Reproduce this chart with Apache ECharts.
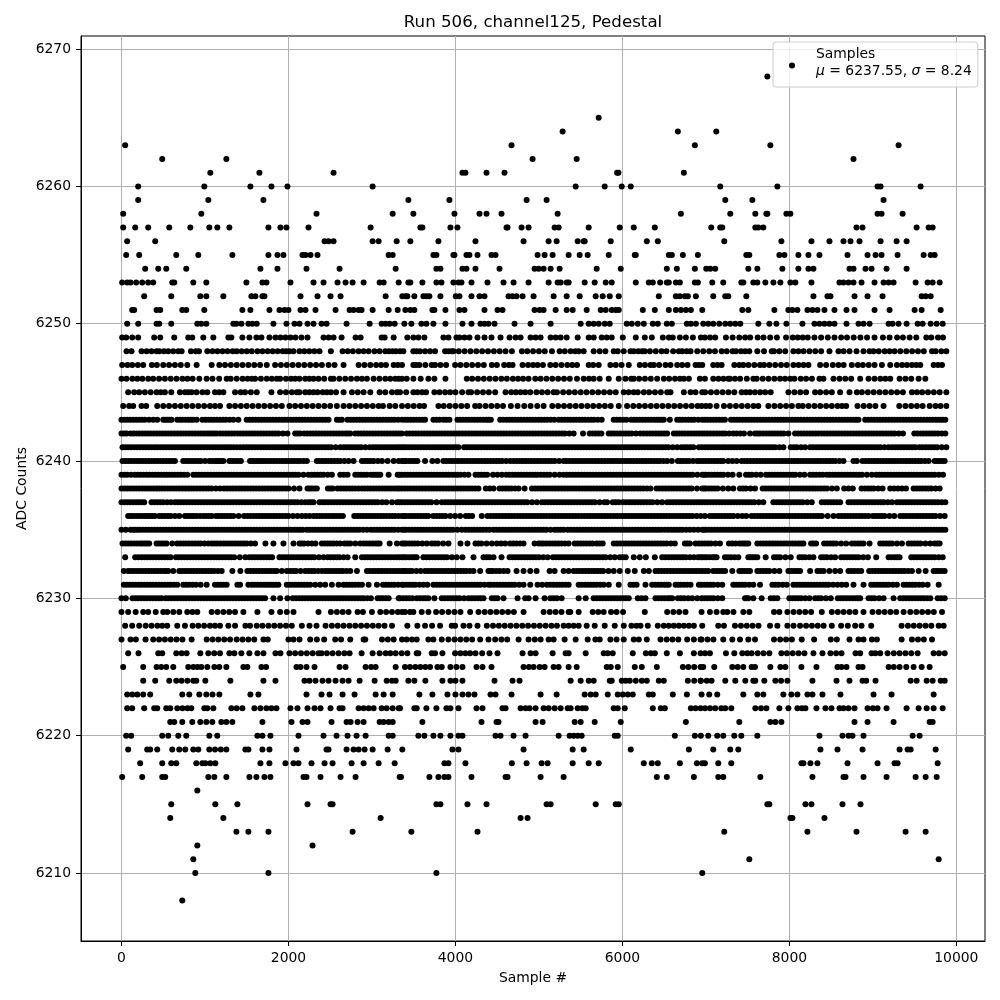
<!DOCTYPE html>
<html>
<head>
<meta charset="utf-8">
<title>Run 506, channel125, Pedestal</title>
<script src="https://cdn.jsdelivr.net/npm/echarts@6/dist/echarts.min.js"></script>
<style>
  html, body { margin: 0; padding: 0; background: #fff; }
  #main { width: 1000px; height: 1000px; }
</style>
</head>
<body>
<div id="main"></div>
<script>
// tick labels
const xTicks = [0, 2000, 4000, 6000, 8000, 10000]
const yTicks = [6210, 6220, 6230, 6240, 6250, 6260, 6270]

// sample numbers, one list per ADC count
const adc6268 = [7736]
const adc6265 = [5716]
const adc6264 = [5284, 6664, 7124]
const adc6263 = [44, 4672, 6868, 7772, 9308]
const adc6262 = [488, 1256, 4924, 5452, 8768]
const adc6261 = [1064, 1652, 2540, 4084, 4120, 4372, 4588, 5936, 5952, 6736]
const adc6260 = [200, 992, 1544, 1796, 1988, 3008, 5440, 5788, 5992, 6100, 7172, 7856, 9056, 9092, 9572]
const adc6259 = [200, 1040, 1700, 3436, 3928, 4852, 5092, 7232, 7556, 9128]
const adc6258 = [20, 956, 2336, 3248, 3496, 3988, 4288, 4372, 4552, 5224, 6700, 7292, 7592, 7724, 7736, 7964, 8012, 9056, 9104, 9356]
const adc6257 = [20, 164, 320, 572, 824, 1052, 1148, 1292, 1760, 1904, 1976, 2240, 2984, 3580, 3604, 3940, 4024, 4612, 4624, 4792, 4876, 5188, 5236, 5596, 5968, 6136, 6388, 7064, 7172, 7196, 7592, 7628, 7688, 8804, 8876, 9524, 9668, 9716]
const adc6256 = [68, 404, 2432, 2480, 2540, 3008, 3080, 3296, 3460, 3796, 4240, 4816, 5116, 5212, 5464, 5536, 5548, 5860, 6292, 6424, 7220, 7904, 8264, 8480, 8648, 8732, 8840, 9092, 9284, 9404]
const adc6255 = [56, 212, 656, 920, 1328, 1760, 1868, 1940, 2168, 2204, 2264, 2348, 3200, 3248, 3736, 3772, 3976, 3988, 4132, 4168, 4264, 4432, 4480, 4984, 5068, 5164, 5356, 5488, 5584, 5836, 6148, 6160, 6556, 6592, 6724, 6904, 7484, 7520, 7880, 7940, 8108, 8228, 8360, 8696, 8936, 9032, 9104, 9296, 9608, 9692, 9740]
const adc6254 = [284, 440, 536, 776, 1664, 1868, 2216, 2612, 3284, 3772, 3820, 4084, 4132, 4240, 4528, 4948, 4996, 5056, 5140, 5248, 5692, 5980, 6532, 6652, 6868, 7004, 7052, 7112, 7508, 7616, 7916, 8108, 8228, 8288, 8720, 8768, 8912, 8984, 9164, 9404]
const adc6253 = [8, 68, 108, 176, 248, 320, 380, 608, 632, 860, 1016, 1496, 1688, 1736, 2024, 2300, 2420, 2588, 2684, 2768, 2900, 3092, 3140, 3320, 3436, 3460, 3604, 3772, 3832, 3976, 4036, 4072, 4192, 4384, 4576, 4696, 4876, 5116, 5224, 5260, 5332, 5356, 5548, 5668, 5800, 5872, 6160, 6316, 6364, 6452, 6532, 6556, 6640, 6688, 6868, 6904, 7076, 7208, 7424, 7448, 7568, 7616, 7712, 7808, 7892, 8012, 8072, 8264, 8600, 8648, 8708, 8768, 8864, 9020, 9128, 9188, 9248, 9512, 9656, 9716, 9800]
const adc6252 = [272, 596, 944, 1016, 1220, 1556, 1604, 1688, 1712, 2144, 2348, 2504, 2624, 3164, 3364, 3400, 3424, 3508, 3616, 3652, 3688, 3820, 4004, 4048, 4192, 4288, 4348, 4636, 4684, 4732, 4804, 4936, 5176, 5332, 5488, 5680, 5764, 5848, 5956, 6436, 6640, 6688, 6748, 6784, 6880, 7088, 7232, 7268, 7484, 8288, 8456, 8492, 8780, 8936, 9116, 9584, 9632, 9692]
const adc6251 = [128, 152, 420, 464, 728, 776, 992, 1448, 1544, 1772, 1892, 1952, 2000, 2144, 2204, 2324, 2564, 2732, 2780, 2840, 2876, 3008, 3200, 3308, 3400, 3460, 3508, 3724, 3748, 3880, 4048, 4108, 4348, 4504, 4564, 4948, 5008, 5056, 5200, 5332, 5404, 5572, 5740, 5800, 5872, 5920, 5956, 6244, 6388, 6556, 6640, 6700, 6760, 6820, 6956, 7436, 7508, 7820, 7988, 8036, 8096, 8216, 8276, 8336, 8420, 8540, 8684, 8780, 9020, 9200, 9500, 9584, 9812]
const adc6250 = [68, 200, 420, 452, 596, 908, 956, 1016, 1340, 1376, 1436, 1520, 1568, 1620, 1820, 1976, 2072, 2132, 2228, 2300, 2396, 2456, 2696, 2972, 3116, 3164, 3212, 3272, 3388, 3472, 3592, 3652, 3736, 3880, 4084, 4192, 4300, 4348, 4396, 4468, 4708, 4900, 5140, 5500, 5596, 5656, 5716, 5788, 5848, 6052, 6112, 6184, 6256, 6364, 6424, 6532, 6592, 6772, 6820, 6880, 6968, 7028, 7088, 7160, 7232, 7292, 7352, 7412, 7628, 7760, 7844, 7964, 8156, 8300, 8360, 8420, 8480, 8540, 8684, 8828, 8888, 8960, 9188, 9236, 9308, 9404, 9536, 9596, 9692, 9764, 9836]
const adc6249 = [8, 56, 128, 200, 392, 464, 632, 800, 848, 980, 1100, 1280, 1316, 1448, 1532, 1616, 1676, 1772, 1844, 1904, 1964, 2024, 2084, 2156, 2228, 2420, 2480, 2540, 2636, 2804, 2864, 3116, 3152, 3260, 3424, 3496, 3556, 3628, 3856, 3916, 4012, 4048, 4108, 4168, 4264, 4348, 4432, 4540, 4648, 4720, 4780, 4900, 4960, 5020, 5140, 5200, 5260, 5332, 5464, 5596, 5656, 5752, 5812, 5872, 6004, 6160, 6268, 6352, 6484, 6556, 6604, 6688, 6760, 6844, 6940, 6988, 7050, 7112, 7240, 7320, 7400, 7470, 7530, 7620, 7690, 7770, 7850, 7960, 8040, 8100, 8160, 8220, 8300, 8380, 8460, 8540, 8620, 8690, 8770, 8850, 8930, 9020, 9120, 9200, 9290, 9360, 9440, 9520, 9640, 9700, 9780, 9840]
const adc6248 = [60, 120, 240, 300, 360, 420, 452, 508, 560, 620, 680, 720, 832, 890, 928, 1028, 1090, 1150, 1210, 1270, 1332, 1380, 1440, 1500, 1560, 1628, 1688, 1750, 1810, 1870, 1930, 1972, 2012, 2060, 2132, 2190, 2250, 2310, 2372, 2508, 2648, 2710, 2772, 2840, 2900, 2960, 3030, 3092, 3160, 3205, 3248, 3288, 3336, 3376, 3496, 3536, 3576, 3636, 3696, 3756, 3876, 3916, 3956, 3976, 4040, 4110, 4180, 4250, 4320, 4390, 4460, 4530, 4600, 4676, 4796, 4860, 4930, 5000, 5070, 5156, 5248, 5310, 5380, 5436, 5476, 5536, 5656, 5728, 5796, 5896, 5944, 6016, 6096, 6136, 6190, 6236, 6268, 6330, 6400, 6470, 6528, 6608, 6676, 6716, 6770, 6816, 6896, 6968, 7040, 7108, 7188, 7250, 7320, 7360, 7420, 7470, 7520, 7616, 7696, 7788, 7816, 7880, 7950, 8048, 8108, 8170, 8240, 8310, 8380, 8480, 8588, 8650, 8720, 8804, 8888, 8960, 9008, 9070, 9140, 9200, 9260, 9328, 9400, 9470, 9540, 9610, 9708, 9752, 9820, 9880]
const adc6247 = [8, 72, 128, 196, 260, 364, 424, 500, 570, 640, 710, 788, 900, 1080, 1172, 1240, 1310, 1380, 1450, 1520, 1590, 1660, 1740, 1840, 1910, 1980, 2050, 2120, 2190, 2260, 2330, 2400, 2480, 2552, 2660, 2840, 2910, 2980, 3050, 3110, 3168, 3260, 3310, 3360, 3496, 3528, 3568, 3640, 3716, 3756, 3820, 3888, 3996, 4060, 4130, 4200, 4270, 4340, 4436, 4496, 4584, 4640, 4684, 4804, 4870, 4930, 4984, 5048, 5136, 5200, 5270, 5340, 5400, 5456, 5596, 5650, 5716, 5856, 5920, 5990, 6076, 6208, 6270, 6336, 6376, 6440, 6516, 6576, 6656, 6716, 6780, 6876, 6916, 6956, 7088, 7140, 7188, 7340, 7400, 7448, 7510, 7580, 7648, 7696, 7760, 7830, 7900, 7968, 8048, 8110, 8170, 8228, 8368, 8440, 8520, 8588, 8650, 8748, 8820, 8880, 8950, 9020, 9108, 9208, 9288, 9350, 9408, 9468, 9520, 9568, 9728, 9780, 9828]
const adc6246 = [0, 60, 130, 190, 250, 320, 380, 450, 520, 590, 660, 730, 790, 852, 932, 1020, 1090, 1170, 1260, 1308, 1380, 1450, 1510, 1560, 1600, 1670, 1740, 1800, 1860, 1900, 1970, 2030, 2080, 2132, 2200, 2250, 2300, 2360, 2428, 2508, 2540, 2610, 2680, 2750, 2820, 2880, 2940, 3020, 3090, 3160, 3220, 3280, 3320, 3360, 3416, 3496, 3584, 3676, 3748, 3880, 4136, 4200, 4270, 4340, 4410, 4480, 4550, 4616, 4688, 4750, 4810, 4876, 4956, 5020, 5090, 5160, 5230, 5300, 5370, 5456, 5536, 5600, 5656, 5728, 5836, 5956, 6036, 6104, 6136, 6200, 6270, 6340, 6416, 6496, 6560, 6630, 6690, 6736, 6796, 6928, 6988, 7088, 7150, 7210, 7268, 7288, 7348, 7410, 7490, 7568, 7608, 7680, 7750, 7820, 7888, 7948, 8010, 8060, 8136, 8200, 8270, 8360, 8408, 8528, 8600, 8670, 8740, 8848, 8948, 9020, 9090, 9150, 9208, 9320, 9390, 9460, 9548, 9628]
const adc6245 = [80, 152, 212, 280, 350, 420, 470, 520, 596, 700, 760, 800, 840, 900, 970, 1028, 1120, 1170, 1220, 1360, 1428, 1480, 1550, 1620, 1796, 1900, 1970, 2040, 2100, 2132, 2200, 2250, 2300, 2348, 2410, 2460, 2508, 2570, 2660, 2760, 2830, 2900, 2980, 3092, 3160, 3240, 3300, 3336, 3410, 3496, 3544, 3600, 3648, 3748, 3810, 3876, 3936, 4000, 4080, 4156, 4188, 4260, 4330, 4400, 4476, 4600, 4668, 4724, 4780, 4836, 4896, 4970, 5036, 5104, 5176, 5216, 5290, 5360, 5430, 5500, 5570, 5640, 5710, 5780, 5850, 5920, 6016, 6076, 6136, 6184, 6256, 6320, 6390, 6460, 6536, 6576, 6736, 6816, 6876, 6956, 6990, 7060, 7130, 7200, 7270, 7340, 7428, 7480, 7528, 7588, 7650, 7710, 7776, 7988, 8060, 8130, 8200, 8308, 8370, 8440, 8508, 8608, 8720, 8808, 8868, 8940, 9010, 9080, 9150, 9220, 9290, 9360, 9468, 9528, 9590, 9660, 9730, 9800, 9880]
const adc6244 = [20, 92, 140, 240, 296, 428, 500, 570, 640, 710, 780, 850, 920, 990, 1060, 1120, 1180, 1292, 1360, 1430, 1500, 1570, 1640, 1710, 1780, 1850, 1920, 2012, 2080, 2150, 2220, 2290, 2360, 2430, 2500, 2580, 2660, 2730, 2800, 2870, 2940, 3010, 3080, 3132, 3212, 3280, 3360, 3430, 3500, 3570, 3624, 3796, 3860, 3930, 4000, 4070, 4140, 4236, 4288, 4360, 4430, 4500, 4570, 4664, 4744, 4824, 4900, 4980, 5056, 5160, 5230, 5300, 5370, 5440, 5510, 5580, 5650, 5720, 5790, 5860, 5956, 6056, 6130, 6200, 6270, 6340, 6410, 6480, 6550, 6620, 6690, 6760, 6830, 6900, 6948, 7000, 7048, 7128, 7216, 7288, 7360, 7430, 7500, 7570, 7628, 7748, 7820, 7890, 7960, 8030, 8108, 8160, 8230, 8300, 8370, 8440, 8508, 8576, 8630, 8680, 8816, 8890, 8960, 9030, 9128, 9316, 9390, 9460, 9528, 9596, 9680, 9750, 9810, 9880]
const adc6243 = [0, 70, 140, 210, 280, 380, 428, 500, 550, 600, 668, 730, 800, 860, 900, 968, 1040, 1110, 1180, 1250, 1340, 1400, 1500, 1570, 1640, 1710, 1780, 1850, 1920, 1990, 2060, 2130, 2200, 2270, 2340, 2410, 2480, 2580, 2640, 2708, 2780, 2850, 2920, 2990, 3060, 3130, 3200, 3270, 3360, 3430, 3500, 3570, 3636, 3736, 3808, 3856, 3928, 4024, 4090, 4160, 4230, 4300, 4370, 4424, 4536, 4610, 4680, 4750, 4820, 4890, 4960, 5030, 5100, 5184, 5236, 5310, 5380, 5450, 5520, 5590, 5660, 5752, 5896, 5970, 6048, 6104, 6170, 6240, 6310, 6380, 6440, 6496, 6568, 6656, 6720, 6790, 6860, 6956, 7020, 7090, 7160, 7228, 7300, 7370, 7440, 7510, 7580, 7650, 7720, 7790, 7860, 7930, 8000, 8070, 8140, 8210, 8280, 8350, 8420, 8490, 8560, 8630, 8700, 8770, 8828, 8908, 8980, 9050, 9120, 9190, 9260, 9330, 9400, 9470, 9540, 9610, 9680, 9750, 9810, 9868]
const adc6242 = [0, 60, 108, 180, 250, 320, 390, 460, 530, 600, 670, 740, 810, 880, 950, 1020, 1080, 1140, 1180, 1250, 1320, 1390, 1460, 1530, 1600, 1670, 1740, 1810, 1880, 1988, 2080, 2140, 2188, 2260, 2330, 2400, 2470, 2540, 2610, 2680, 2740, 2800, 2870, 2940, 3010, 3080, 3150, 3220, 3290, 3356, 3416, 3490, 3560, 3630, 3700, 3770, 3840, 3910, 3980, 4050, 4120, 4190, 4260, 4330, 4400, 4470, 4540, 4610, 4680, 4750, 4820, 4890, 4960, 5030, 5100, 5170, 5240, 5310, 5416, 5528, 5608, 5680, 5748, 5836, 5900, 5970, 6040, 6110, 6216, 6256, 6330, 6400, 6470, 6536, 6616, 6680, 6750, 6820, 6890, 6956, 7020, 7090, 7160, 7230, 7328, 7368, 7456, 7528, 7588, 7648, 7720, 7790, 7860, 7930, 7988, 8068, 8140, 8210, 8280, 8350, 8420, 8490, 8560, 8630, 8700, 8770, 8840, 8910, 8980, 9050, 9120, 9190, 9260, 9360, 9496, 9570, 9640, 9710, 9780, 9868]
const adc6241 = [12, 80, 150, 220, 290, 360, 430, 500, 570, 640, 710, 780, 850, 920, 990, 1060, 1130, 1200, 1270, 1340, 1420, 1460, 1530, 1600, 1670, 1740, 1810, 1880, 1950, 2020, 2090, 2160, 2230, 2300, 2370, 2440, 2510, 2620, 2660, 2730, 2800, 2870, 2972, 3012, 3080, 3150, 3220, 3290, 3350, 3410, 3480, 3550, 3620, 3690, 3760, 3830, 3900, 3970, 4036, 4104, 4170, 4240, 4310, 4380, 4450, 4520, 4590, 4660, 4730, 4800, 4870, 4940, 5010, 5080, 5150, 5220, 5290, 5360, 5430, 5500, 5570, 5640, 5710, 5780, 5850, 5920, 5990, 6060, 6130, 6200, 6270, 6340, 6410, 6480, 6550, 6656, 6708, 6776, 6850, 6916, 6990, 7060, 7130, 7200, 7270, 7340, 7410, 7480, 7550, 7620, 7690, 7760, 7830, 7928, 8016, 8090, 8188, 8248, 8320, 8390, 8460, 8530, 8600, 8670, 8740, 8810, 8880, 8950, 9020, 9090, 9188, 9228, 9300, 9370, 9440, 9508, 9556, 9630, 9700, 9770, 9880]
const adc6240 = [12, 80, 150, 220, 290, 360, 430, 500, 570, 640, 740, 810, 880, 950, 1052, 1120, 1170, 1220, 1292, 1360, 1430, 1540, 1600, 1660, 1720, 1790, 1860, 1930, 2000, 2070, 2140, 2220, 2340, 2410, 2480, 2550, 2620, 2720, 2780, 2880, 2950, 3020, 3120, 3188, 3260, 3320, 3360, 3410, 3480, 3544, 3636, 3724, 3784, 3856, 3930, 4000, 4070, 4140, 4210, 4280, 4350, 4420, 4490, 4560, 4656, 4696, 4770, 4840, 4910, 4980, 5050, 5120, 5190, 5296, 5328, 5400, 5470, 5540, 5610, 5680, 5750, 5820, 5890, 5960, 6030, 6100, 6170, 6240, 6310, 6380, 6450, 6536, 6592, 6664, 6730, 6800, 6896, 6928, 7000, 7070, 7140, 7208, 7268, 7368, 7428, 7500, 7570, 7640, 7710, 7780, 7850, 7920, 7990, 8060, 8130, 8200, 8270, 8340, 8410, 8480, 8550, 8648, 8768, 8808, 8876, 8950, 9020, 9090, 9160, 9230, 9300, 9370, 9440, 9510, 9580, 9668, 9740, 9800, 9860]
const adc6239 = [0, 70, 160, 228, 300, 370, 440, 510, 572, 640, 710, 788, 860, 930, 1000, 1070, 1140, 1210, 1280, 1350, 1420, 1490, 1560, 1630, 1700, 1770, 1840, 1910, 1980, 2050, 2120, 2240, 2280, 2350, 2420, 2520, 2620, 2708, 2800, 2870, 2940, 2988, 3050, 3100, 3200, 3308, 3360, 3430, 3500, 3570, 3640, 3710, 3780, 3850, 3920, 3990, 4060, 4156, 4240, 4310, 4380, 4450, 4556, 4608, 4680, 4750, 4820, 4890, 4956, 4984, 5060, 5130, 5248, 5296, 5370, 5440, 5510, 5580, 5650, 5720, 5790, 5860, 5930, 6000, 6070, 6140, 6210, 6280, 6350, 6420, 6490, 6560, 6630, 6700, 6770, 6840, 6956, 7000, 7070, 7140, 7210, 7320, 7400, 7480, 7550, 7656, 7720, 7790, 7860, 7930, 8000, 8070, 8180, 8248, 8320, 8400, 8448, 8520, 8590, 8660, 8730, 8800, 8870, 8988, 9040, 9110, 9180, 9250, 9320, 9390, 9460, 9530, 9600, 9670, 9740, 9840]
const adc6238 = [0, 70, 140, 210, 280, 350, 420, 452, 520, 590, 660, 730, 800, 870, 940, 1010, 1080, 1180, 1228, 1300, 1370, 1440, 1510, 1580, 1650, 1720, 1790, 1860, 1930, 2000, 2132, 2228, 2280, 2340, 2472, 2528, 2588, 2660, 2730, 2800, 2880, 2950, 3020, 3090, 3160, 3230, 3300, 3360, 3430, 3500, 3570, 3640, 3710, 3780, 3850, 3920, 3990, 4060, 4130, 4200, 4276, 4364, 4456, 4528, 4600, 4670, 4756, 4828, 4916, 4990, 5060, 5130, 5200, 5270, 5340, 5410, 5480, 5550, 5620, 5690, 5760, 5830, 5900, 5970, 6040, 6110, 6180, 6250, 6336, 6408, 6480, 6550, 6620, 6690, 6760, 6830, 6956, 7000, 7070, 7140, 7268, 7328, 7408, 7480, 7588, 7680, 7750, 7820, 7890, 7960, 8030, 8100, 8170, 8240, 8310, 8380, 8450, 8568, 8656, 8760, 8864, 8940, 9010, 9116, 9208, 9300, 9396, 9488, 9560, 9630, 9700, 9800]
const adc6237 = [0, 70, 140, 210, 272, 360, 430, 500, 592, 640, 710, 780, 850, 920, 990, 1060, 1130, 1200, 1270, 1340, 1410, 1480, 1550, 1620, 1690, 1760, 1830, 1900, 1970, 2040, 2110, 2200, 2240, 2300, 2372, 2440, 2510, 2580, 2650, 2720, 2790, 2860, 2930, 3000, 3070, 3172, 3240, 3300, 3360, 3430, 3500, 3570, 3640, 3710, 3836, 3876, 3950, 4020, 4090, 4160, 4230, 4300, 4370, 4440, 4510, 4580, 4650, 4720, 4790, 4860, 4976, 5036, 5110, 5180, 5250, 5320, 5390, 5460, 5530, 5600, 5670, 5784, 5816, 5884, 5956, 6004, 6080, 6150, 6220, 6290, 6360, 6476, 6536, 6610, 6680, 6750, 6820, 6890, 6956, 7020, 7090, 7160, 7230, 7300, 7370, 7440, 7510, 7580, 7688, 7808, 7880, 7950, 8020, 8090, 8160, 8268, 8388, 8460, 8530, 8608, 8708, 8780, 8850, 8920, 8990, 9060, 9130, 9228, 9288, 9360, 9430, 9500, 9570, 9640, 9710, 9780, 9868]
const adc6236 = [80, 140, 210, 280, 340, 400, 452, 520, 590, 692, 760, 830, 900, 980, 1012, 1080, 1132, 1200, 1270, 1340, 1468, 1508, 1580, 1650, 1720, 1790, 1860, 1930, 2000, 2108, 2160, 2252, 2300, 2370, 2440, 2510, 2580, 2652, 2788, 2860, 2930, 3000, 3070, 3140, 3210, 3280, 3360, 3410, 3480, 3550, 3620, 3676, 3736, 3810, 3880, 3996, 4056, 4124, 4200, 4316, 4384, 4460, 4530, 4600, 4670, 4740, 4810, 4880, 4950, 5020, 5090, 5160, 5230, 5300, 5370, 5440, 5510, 5580, 5650, 5720, 5790, 5860, 5930, 6000, 6070, 6140, 6210, 6280, 6350, 6420, 6490, 6560, 6630, 6700, 6770, 6840, 6936, 6988, 7048, 7120, 7190, 7260, 7330, 7436, 7484, 7548, 7620, 7690, 7760, 7830, 7900, 7970, 8040, 8110, 8180, 8250, 8320, 8390, 8528, 8588, 8660, 8730, 8800, 8870, 8948, 9000, 9070, 9140, 9256, 9328, 9400, 9470, 9540, 9610, 9680, 9750, 9860]
const adc6235 = [0, 52, 108, 160, 220, 290, 360, 430, 500, 570, 640, 710, 780, 850, 920, 990, 1060, 1130, 1200, 1270, 1340, 1410, 1480, 1550, 1620, 1690, 1760, 1830, 1900, 1970, 2040, 2110, 2172, 2220, 2290, 2360, 2430, 2500, 2570, 2640, 2710, 2780, 2850, 2940, 2988, 3060, 3130, 3200, 3270, 3360, 3410, 3480, 3550, 3620, 3690, 3760, 3830, 3900, 3970, 4076, 4120, 4190, 4260, 4330, 4408, 4456, 4530, 4600, 4670, 4740, 4810, 4880, 4950, 5020, 5090, 5188, 5224, 5296, 5344, 5420, 5490, 5560, 5630, 5700, 5770, 5840, 5910, 5980, 6050, 6120, 6190, 6260, 6330, 6400, 6470, 6548, 6584, 6650, 6720, 6808, 6856, 6956, 7000, 7070, 7140, 7210, 7280, 7350, 7420, 7490, 7560, 7630, 7700, 7770, 7840, 7910, 7980, 8050, 8120, 8190, 8260, 8330, 8400, 8470, 8540, 8610, 8680, 8750, 8820, 8890, 8960, 9030, 9100, 9170, 9240, 9310, 9380, 9450, 9520, 9590, 9660, 9730, 9800, 9868]
const adc6234 = [12, 80, 150, 220, 280, 332, 420, 480, 540, 608, 668, 740, 810, 880, 950, 1040, 1080, 1148, 1220, 1290, 1360, 1430, 1500, 1600, 1724, 1820, 1940, 2060, 2132, 2188, 2280, 2324, 2400, 2470, 2540, 2620, 2672, 2740, 2860, 2900, 2970, 3040, 3092, 3212, 3300, 3360, 3410, 3480, 3550, 3656, 3716, 3790, 3916, 4060, 4144, 4240, 4310, 4436, 4496, 4596, 4656, 4730, 4816, 4948, 4996, 5056, 5130, 5200, 5270, 5356, 5428, 5500, 5570, 5644, 5692, 5764, 5896, 5970, 6040, 6110, 6180, 6250, 6320, 6390, 6460, 6530, 6628, 6748, 6808, 6876, 6916, 6988, 7060, 7168, 7276, 7356, 7400, 7460, 7508, 7616, 7690, 7760, 7830, 7900, 7970, 8040, 8110, 8168, 8260, 8320, 8416, 8490, 8560, 8680, 8748, 8820, 8888, 8960, 9088, 9160, 9230, 9348, 9428, 9500, 9570, 9688, 9740, 9800]
const adc6233 = [44, 164, 240, 310, 380, 450, 520, 588, 652, 720, 790, 860, 930, 1000, 1070, 1140, 1210, 1280, 1350, 1484, 1532, 1600, 1670, 1740, 1804, 1892, 1960, 2030, 2100, 2170, 2240, 2310, 2420, 2468, 2540, 2610, 2708, 2800, 2880, 2950, 3020, 3092, 3160, 3230, 3300, 3360, 3410, 3480, 3536, 3616, 3690, 3760, 3830, 3900, 4016, 4084, 4216, 4336, 4408, 4456, 4552, 4648, 4720, 4790, 4860, 4930, 5000, 5104, 5168, 5240, 5310, 5380, 5450, 5520, 5590, 5660, 5730, 5800, 5908, 5968, 6040, 6136, 6208, 6280, 6388, 6476, 6550, 6620, 6690, 6760, 6856, 6904, 6956, 7010, 7080, 7128, 7228, 7300, 7388, 7508, 7560, 7616, 7716, 7816, 7890, 8016, 8120, 8190, 8288, 8380, 8450, 8548, 8620, 8690, 8760, 8830, 8940, 9040, 9188, 9260, 9320, 9460, 9530, 9600, 9670, 9740, 9836]
const adc6232 = [28, 80, 148, 220, 290, 360, 430, 500, 560, 620, 692, 760, 830, 900, 970, 1040, 1110, 1200, 1328, 1424, 1508, 1580, 1650, 1720, 1790, 1860, 1980, 2020, 2090, 2200, 2240, 2310, 2400, 2440, 2510, 2580, 2650, 2740, 2820, 2940, 3010, 3080, 3150, 3220, 3290, 3360, 3410, 3480, 3584, 3636, 3710, 3780, 3850, 3920, 3990, 4060, 4130, 4216, 4296, 4396, 4448, 4530, 4624, 4732, 4816, 4896, 4972, 5128, 5188, 5296, 5356, 5416, 5490, 5560, 5630, 5700, 5770, 5896, 5968, 6064, 6148, 6256, 6316, 6396, 6470, 6540, 6610, 6680, 6750, 6820, 6890, 6956, 7028, 7088, 7160, 7230, 7316, 7400, 7460, 7528, 7616, 7690, 7760, 7880, 7988, 8060, 8128, 8248, 8336, 8410, 8548, 8608, 8708, 8780, 8860, 8956, 9030, 9100, 9170, 9240, 9310, 9380, 9468, 9548, 9632, 9728, 9790, 9860]
const adc6231 = [28, 100, 170, 240, 310, 380, 450, 520, 590, 668, 740, 810, 892, 948, 1020, 1120, 1190, 1260, 1388, 1420, 1520, 1560, 1630, 1700, 1760, 1820, 1880, 1980, 2050, 2120, 2190, 2260, 2380, 2440, 2520, 2600, 2660, 2730, 2800, 2880, 2960, 3060, 3132, 3200, 3270, 3360, 3376, 3450, 3520, 3616, 3664, 3736, 3810, 3880, 3950, 4020, 4090, 4160, 4230, 4300, 4396, 4424, 4500, 4570, 4640, 4710, 4816, 4896, 4984, 5096, 5136, 5210, 5280, 5356, 5476, 5550, 5620, 5690, 5776, 5836, 5956, 6096, 6170, 6276, 6356, 6430, 6500, 6556, 6636, 6700, 6776, 6816, 6916, 6948, 7020, 7090, 7196, 7328, 7400, 7470, 7568, 7648, 7796, 7870, 7968, 8048, 8120, 8190, 8260, 8330, 8400, 8470, 8576, 8628, 8680, 8768, 8888, 8980, 9050, 9120, 9190, 9288, 9368, 9440, 9510, 9596, 9656, 9788]
const adc6230 = [0, 52, 132, 200, 270, 340, 410, 480, 528, 600, 670, 740, 810, 880, 950, 1020, 1090, 1160, 1230, 1300, 1370, 1440, 1510, 1580, 1650, 1720, 1820, 1900, 1988, 2052, 2130, 2200, 2270, 2340, 2410, 2480, 2550, 2620, 2690, 2760, 2830, 2900, 2988, 3068, 3130, 3200, 3320, 3336, 3410, 3484, 3536, 3610, 3676, 3748, 3836, 3910, 3980, 4050, 4156, 4196, 4270, 4336, 4436, 4504, 4576, 4744, 4836, 4876, 4960, 5068, 5136, 5216, 5272, 5476, 5560, 5656, 5730, 5800, 5870, 5940, 6010, 6076, 6184, 6276, 6396, 6470, 6540, 6596, 6664, 6740, 6836, 6896, 6948, 7020, 7090, 7196, 7468, 7508, 7568, 7668, 7776, 7856, 8000, 8070, 8140, 8240, 8308, 8380, 8496, 8580, 8650, 8720, 8790, 8848, 8948, 9020, 9128, 9248, 9328, 9400, 9470, 9540, 9610, 9688, 9776, 9860]
const adc6229 = [0, 80, 170, 260, 320, 410, 500, 548, 620, 692, 788, 850, 908, 1080, 1150, 1220, 1290, 1360, 1460, 1628, 1796, 1900, 1980, 2060, 2360, 2508, 2580, 2650, 2720, 2828, 2892, 3000, 3100, 3170, 3240, 3310, 3360, 3396, 3456, 3496, 3596, 3676, 3768, 3840, 3916, 3988, 4060, 4176, 4276, 4350, 4420, 4490, 4560, 4630, 4700, 4816, 5056, 5130, 5200, 5270, 5356, 5376, 5476, 5644, 5710, 5776, 5864, 5930, 6008, 6268, 6536, 6610, 6680, 6756, 6948, 7048, 7128, 7208, 7256, 7330, 7448, 7520, 7816, 7880, 7976, 8050, 8120, 8190, 8260, 8388, 8508, 8580, 8650, 8720, 8790, 8888, 8996, 9070, 9140, 9210, 9280, 9368, 9448, 9520, 9590, 9660, 9730, 9828]
const adc6228 = [44, 128, 212, 290, 360, 430, 488, 548, 668, 760, 852, 920, 990, 1060, 1120, 1180, 1280, 1360, 1484, 1540, 1620, 1688, 1760, 1830, 1900, 1970, 2040, 2160, 2252, 2336, 2444, 2520, 2590, 2660, 2730, 2800, 2870, 2940, 3010, 3080, 3150, 3240, 3424, 3544, 3636, 3720, 3816, 3956, 3996, 4096, 4168, 4264, 4376, 4450, 4520, 4590, 4660, 4730, 4800, 4870, 4940, 5010, 5080, 5150, 5216, 5296, 5356, 5416, 5476, 5572, 5668, 5788, 5908, 6016, 6108, 6168, 6216, 6304, 6424, 6496, 6556, 6616, 6676, 6736, 6796, 6856, 6956, 7148, 7216, 7348, 7420, 7490, 7560, 7630, 7768, 7856, 7976, 8050, 8128, 8200, 8270, 8340, 8410, 8508, 8620, 8700, 8788, 8864, 8980, 9344, 9420, 9490, 9560, 9630, 9700, 9788, 9848]
const adc6227 = [0, 108, 172, 288, 380, 450, 520, 590, 660, 730, 840, 1020, 1090, 1160, 1230, 1300, 1380, 1450, 1520, 1590, 1700, 1752, 2000, 2060, 2132, 2260, 2340, 2428, 2560, 2630, 2740, 2900, 2920, 3120, 3190, 3260, 3360, 3416, 3480, 3536, 3676, 3736, 3836, 3916, 3990, 4060, 4130, 4200, 4296, 4396, 4476, 4550, 4620, 4756, 4876, 4950, 5020, 5116, 5176, 5308, 5440, 5584, 5676, 5728, 5856, 5930, 6016, 6136, 6196, 6292, 6456, 6530, 6600, 6670, 6776, 6856, 6936, 6948, 7020, 7090, 7208, 7316, 7408, 7508, 7588, 7816, 7890, 7960, 8030, 8148, 8296, 8496, 8568, 8720, 8828, 8888, 8988, 9048, 9344, 9468, 9540, 9610, 9708]
const adc6226 = [80, 204, 440, 488, 656, 720, 780, 944, 1040, 1110, 1180, 1292, 1352, 1436, 1532, 1628, 1700, 1844, 1904, 2012, 2080, 2150, 2220, 2290, 2360, 2396, 2460, 2528, 2600, 2670, 2732, 2876, 3008, 3092, 3164, 3220, 3284, 3356, 3424, 3536, 3556, 3716, 3756, 3844, 3996, 4060, 4120, 4176, 4240, 4320, 4408, 4504, 4804, 4900, 4960, 5164, 5320, 5356, 5560, 5776, 5824, 5884, 6124, 6280, 6340, 6388, 6532, 6688, 6856, 6936, 6990, 7048, 7240, 7340, 7436, 7496, 7548, 7620, 7690, 7760, 7904, 7970, 8040, 8110, 8180, 8288, 8396, 8492, 8560, 8624, 8792, 8848, 8984, 9030, 9088, 9176, 9250, 9320, 9390, 9460, 9536, 9728, 9792, 9860]
const adc6225 = [20, 260, 420, 476, 536, 620, 800, 860, 910, 956, 1028, 1112, 1172, 1256, 1460, 1508, 1676, 1732, 2096, 2144, 2216, 2312, 2612, 2684, 2924, 2990, 3044, 3284, 3396, 3456, 3520, 3580, 3640, 3696, 3784, 3836, 3940, 4012, 4084, 4252, 4324, 4432, 4816, 4880, 4936, 5008, 5068, 5176, 5236, 5356, 5452, 5812, 5860, 5944, 6148, 6232, 6412, 6724, 6790, 6860, 6936, 6968, 7100, 7316, 7380, 7448, 7548, 7588, 7772, 7892, 7952, 8144, 8324, 8576, 8624, 8684, 8828, 8876, 9188, 9250, 9320, 9400, 9488, 9584, 9680]
const adc6224 = [260, 404, 572, 656, 720, 790, 860, 896, 1004, 1304, 1700, 1844, 2192, 2252, 2324, 2408, 2480, 2564, 2648, 2720, 2852, 3032, 3176, 3240, 3284, 3436, 3508, 3640, 3844, 3940, 4000, 4084, 4468, 4684, 4768, 5380, 5500, 5596, 5656, 5848, 5872, 5992, 6040, 6088, 6160, 6232, 6292, 6436, 6496, 6784, 6860, 6936, 6940, 7010, 7068, 7232, 7352, 7472, 7568, 7592, 7700, 7832, 7900, 7976, 8276, 8564, 8720, 8876, 8920, 9032, 9452, 9524, 9644, 9716, 9812, 9860]
const adc6223 = [68, 130, 190, 260, 344, 728, 812, 932, 1016, 1090, 1172, 1544, 1640, 2216, 2396, 2492, 2648, 2792, 3044, 3140, 3248, 3568, 3724, 3904, 4000, 4084, 4156, 4228, 4420, 4480, 4672, 5020, 5212, 5548, 5620, 5680, 5824, 5944, 6004, 6064, 6124, 6316, 6364, 6604, 6772, 6948, 7040, 7136, 7448, 7616, 7688, 7928, 8024, 8096, 8216, 8276, 8396, 8612, 9008, 9224, 9728]
const adc6222 = [68, 128, 272, 392, 428, 536, 584, 668, 730, 790, 836, 992, 1028, 1100, 1316, 1380, 1448, 1592, 1664, 1736, 1796, 1856, 2024, 2108, 2228, 2312, 2384, 2504, 2612, 2648, 2840, 2900, 2960, 3020, 3116, 3176, 3248, 3320, 3336, 3508, 3536, 3652, 3772, 3892, 3940, 4036, 4252, 4324, 4564, 4600, 4780, 4840, 4888, 4960, 5056, 5116, 5188, 5260, 5344, 5380, 5464, 5520, 5560, 5896, 5944, 6028, 6364, 6460, 6508, 6820, 6876, 6936, 6990, 7050, 7112, 7184, 7232, 7304, 7592, 7660, 7724, 7880, 7988, 8096, 8150, 8192, 8324, 8432, 8504, 8600, 8648, 8708, 8780, 8936, 9000, 9056, 9164, 9404, 9548, 9644, 9728, 9836]
const adc6221 = [584, 632, 728, 848, 944, 1016, 1088, 1196, 1256, 1328, 1688, 2036, 2168, 2228, 2516, 2696, 2744, 2828, 2900, 3092, 3140, 3200, 3248, 3604, 4312, 4492, 4516, 4960, 5044, 5428, 5500, 5668, 5980, 6760, 7400, 7772, 7832, 7904, 8780, 8936, 9248, 9680, 9716]
const adc6220 = [56, 116, 488, 560, 680, 776, 1052, 1148, 1628, 1688, 1784, 2120, 2420, 2576, 2708, 2816, 2924, 3200, 3248, 3556, 3628, 3736, 3820, 3940, 4036, 4084, 4480, 4540, 4696, 4840, 5236, 5368, 5416, 5464, 5512, 5908, 5944, 6628, 6868, 6940, 7028, 7136, 7208, 7340, 7424, 7616, 8360, 8636, 8708, 8756, 8888, 9476, 9560]
const adc6219 = [80, 308, 344, 428, 608, 692, 764, 860, 920, 1052, 1120, 1190, 1256, 1484, 1520, 1688, 1772, 2096, 2456, 2480, 2696, 2780, 2840, 2912, 3008, 3188, 3364, 3964, 4036, 4816, 5404, 5536, 6100, 6796, 7088, 7292, 7388, 8372, 8576, 8876, 9320, 9416, 9452, 9752]
const adc6218 = [224, 488, 596, 656, 896, 968, 1004, 1064, 1124, 1664, 1772, 1964, 2060, 2120, 2276, 2432, 2528, 2756, 2900, 3080, 3272, 3868, 3916, 4120, 4676, 4852, 5032, 5104, 5404, 5596, 5716, 6256, 6352, 6424, 6688, 6892, 6956, 6988, 7148, 7304, 8144, 8168, 8252, 8336, 8696, 9056, 9260, 9296, 9776]
const adc6217 = [8, 248, 488, 524, 1040, 1112, 1256, 1532, 1616, 1712, 1784, 2180, 2216, 2384, 2624, 2804, 3332, 3348, 3688, 3796, 3868, 3916, 4192, 4600, 4624, 5020, 5296, 6412, 6532, 6856, 7148, 7208, 7652, 8276, 8648, 8672, 8888, 9164, 9512, 9632, 9764]
const adc6216 = [908]
const adc6215 = [596, 1124, 1388, 2228, 2504, 2528, 3772, 3820, 4144, 4372, 5092, 5140, 5680, 5920, 5956, 7736, 7760, 8192, 8264, 8636, 8852]
const adc6214 = [584, 1220, 3104, 4780, 4864, 8012, 8036, 8420]
const adc6213 = [1376, 1520, 1760, 2768, 3472, 4264, 7220, 8216, 8804, 9392, 9632]
const adc6212 = [908, 2288]
const adc6211 = [860, 7520, 9788]
const adc6210 = [884, 1760, 3772, 6956]
const adc6208 = [728]

// more samples inside the solid runs of the busiest counts
const more6243 = [35, 105, 175, 245, 330, 525, 575, 700, 765, 830, 1005, 1075, 1145, 1215, 1295, 1535, 1605, 1675, 1745, 1815, 1885, 1955, 2025, 2095, 2165, 2235, 2305, 2375, 2445, 2610, 2745, 2815, 2885, 2955, 3025, 3095, 3165, 3235, 3315, 3395, 3465, 3535, 3605, 3772, 3892, 4057, 4125, 4195, 4265, 4335, 4397, 4573, 4645, 4715, 4785, 4855, 4925, 4995, 5065, 5142, 5273, 5345, 5415, 5485, 5555, 5625, 5706, 5933, 6009, 6137, 6205, 6275, 6345, 6410, 6468, 6688, 6755, 6825, 6908, 6988, 7055, 7125, 7194, 7335, 7405, 7475, 7545, 7615, 7685, 7755, 7825, 7895, 7965, 8035, 8105, 8175, 8245, 8315, 8385, 8455, 8525, 8595, 8665, 8735, 8799, 8944, 9015, 9085, 9155, 9225, 9295, 9365, 9435, 9505, 9575, 9645, 9715, 9780, 9839]
const more6242 = [30, 144, 215, 285, 355, 425, 495, 565, 635, 705, 775, 845, 915, 985, 1050, 1110, 1215, 1285, 1355, 1425, 1495, 1565, 1635, 1705, 1775, 1845, 1934, 2110, 2224, 2295, 2365, 2435, 2505, 2575, 2645, 2710, 2835, 2905, 2975, 3045, 3115, 3185, 3255, 3323, 3453, 3525, 3595, 3665, 3735, 3805, 3875, 3945, 4015, 4085, 4155, 4225, 4295, 4365, 4435, 4505, 4575, 4645, 4715, 4785, 4855, 4925, 4995, 5065, 5135, 5205, 5275, 5363, 5644, 5714, 5868, 5935, 6005, 6075, 6163, 6293, 6365, 6435, 6503, 6648, 6715, 6785, 6855, 6923, 6988, 7055, 7125, 7195, 7279, 7412, 7618, 7684, 7755, 7825, 7895, 8104, 8175, 8245, 8315, 8385, 8455, 8525, 8595, 8665, 8735, 8805, 8875, 8945, 9015, 9085, 9155, 9225, 9310, 9533, 9605, 9675, 9745, 9824]
const more6241 = [46, 115, 185, 255, 325, 395, 465, 535, 605, 675, 745, 815, 885, 955, 1025, 1095, 1165, 1235, 1305, 1380, 1495, 1565, 1635, 1705, 1775, 1845, 1915, 1985, 2055, 2125, 2195, 2265, 2335, 2405, 2475, 2565, 2695, 2765, 2835, 2921, 3046, 3115, 3185, 3255, 3320, 3380, 3445, 3515, 3585, 3655, 3725, 3795, 3865, 3935, 4003, 4137, 4205, 4275, 4345, 4415, 4485, 4555, 4625, 4695, 4765, 4835, 4905, 4975, 5045, 5115, 5185, 5255, 5325, 5395, 5465, 5535, 5605, 5675, 5745, 5815, 5885, 5955, 6025, 6095, 6165, 6235, 6305, 6375, 6445, 6515, 6603, 6742, 6813, 6953, 7025, 7095, 7165, 7235, 7305, 7375, 7445, 7515, 7585, 7655, 7725, 7795, 7880, 8052, 8139, 8284, 8355, 8425, 8495, 8565, 8635, 8705, 8775, 8845, 8915, 8985, 9055, 9139, 9264, 9335, 9405, 9474, 9593, 9665, 9735, 9825]
const more6240 = [46, 115, 185, 255, 325, 395, 465, 535, 605, 775, 845, 915, 1001, 1086, 1145, 1195, 1326, 1395, 1570, 1630, 1690, 1755, 1825, 1895, 1965, 2035, 2105, 2180, 2375, 2445, 2515, 2585, 2670, 2915, 2985, 3070, 3385, 3445, 3512, 3893, 3965, 4035, 4105, 4175, 4245, 4315, 4385, 4455, 4525, 4608, 4733, 4805, 4875, 4945, 5015, 5085, 5155, 5243, 5364, 5435, 5505, 5575, 5645, 5715, 5785, 5855, 5925, 5995, 6065, 6135, 6205, 6275, 6345, 6415, 6493, 6697, 6765, 6848, 6964, 7035, 7105, 7174, 7318, 7464, 7535, 7605, 7675, 7745, 7815, 7885, 7955, 8025, 8095, 8165, 8235, 8305, 8375, 8445, 8515, 8599, 8913, 8985, 9055, 9125, 9195, 9265, 9335, 9405, 9475, 9545, 9624, 9770, 9830]
const more6239 = [35, 115, 194, 264, 335, 405, 475, 541, 606, 675, 749, 895, 965, 1035, 1105, 1175, 1245, 1315, 1385, 1455, 1525, 1595, 1665, 1735, 1805, 1875, 1945, 2015, 2085, 2180, 2315, 2385, 2470, 2664, 2835, 2905, 3019, 3075, 3334, 3395, 3465, 3535, 3605, 3675, 3745, 3815, 3885, 3955, 4025, 4108, 4275, 4345, 4503, 4644, 4715, 4785, 4855, 4923, 5022, 5095, 5189, 5333, 5405, 5475, 5545, 5615, 5685, 5755, 5825, 5895, 5965, 6035, 6105, 6175, 6245, 6315, 6385, 6455, 6525, 6595, 6665, 6735, 6805, 6898, 6978, 7035, 7105, 7175, 7265, 7515, 7603, 7755, 7825, 7895, 7965, 8035, 8125, 8284, 8360, 8484, 8555, 8625, 8695, 8765, 8835, 8929, 9075, 9145, 9215, 9285, 9355, 9425, 9495, 9565, 9635, 9705, 9790]
const more6238 = [35, 105, 175, 245, 315, 385, 486, 555, 625, 695, 765, 835, 905, 975, 1045, 1130, 1264, 1335, 1405, 1475, 1545, 1615, 1685, 1755, 1825, 1895, 1965, 2066, 2254, 2310, 2500, 2624, 2695, 2765, 2840, 2915, 2985, 3055, 3125, 3195, 3265, 3330, 3395, 3465, 3535, 3605, 3675, 3745, 3815, 3885, 3955, 4025, 4095, 4165, 4238, 4410, 4564, 4635, 4713, 4953, 5025, 5095, 5165, 5235, 5305, 5375, 5445, 5515, 5585, 5655, 5725, 5795, 5865, 5935, 6005, 6075, 6145, 6215, 6293, 6444, 6515, 6585, 6655, 6725, 6795, 6893, 6978, 7035, 7105, 7204, 7444, 7534, 7715, 7785, 7855, 7925, 7995, 8065, 8135, 8205, 8275, 8345, 8415, 8509, 8708, 8902, 8975, 9063, 9254, 9348, 9524, 9595, 9665, 9750]
const more6237 = [35, 105, 175, 241, 395, 465, 546, 675, 745, 815, 885, 955, 1025, 1095, 1165, 1235, 1305, 1375, 1445, 1515, 1585, 1655, 1725, 1795, 1865, 1935, 2005, 2075, 2155, 2270, 2406, 2475, 2545, 2615, 2685, 2755, 2825, 2895, 2965, 3035, 3121, 3330, 3395, 3465, 3535, 3605, 3675, 3773, 3913, 3985, 4055, 4125, 4195, 4265, 4335, 4405, 4475, 4545, 4615, 4685, 4755, 4825, 4918, 5073, 5145, 5215, 5285, 5355, 5425, 5495, 5565, 5635, 5727, 5920, 6042, 6115, 6185, 6255, 6325, 6418, 6573, 6645, 6715, 6785, 6855, 6923, 6988, 7055, 7125, 7195, 7265, 7335, 7405, 7475, 7545, 7634, 7844, 7915, 7985, 8055, 8125, 8214, 8424, 8495, 8569, 8744, 8815, 8885, 8955, 9025, 9095, 9179, 9324, 9395, 9465, 9535, 9605, 9675, 9745, 9824]
const more6236 = [110, 175, 245, 310, 370, 486, 555, 641, 795, 865, 940, 1046, 1166, 1235, 1305, 1404, 1544, 1615, 1685, 1755, 1825, 1895, 1965, 2054, 2206, 2335, 2405, 2475, 2545, 2616, 2824, 2895, 2965, 3035, 3105, 3175, 3245, 3320, 3385, 3445, 3515, 3585, 3648, 3773, 3845, 3938, 4162, 4422, 4495, 4565, 4635, 4705, 4775, 4845, 4915, 4985, 5055, 5125, 5195, 5265, 5335, 5405, 5475, 5545, 5615, 5685, 5755, 5825, 5895, 5965, 6035, 6105, 6175, 6245, 6315, 6385, 6455, 6525, 6595, 6665, 6735, 6805, 6888, 7084, 7155, 7225, 7295, 7383, 7584, 7655, 7725, 7795, 7865, 7935, 8005, 8075, 8145, 8215, 8285, 8355, 8459, 8624, 8695, 8765, 8835, 8909, 9035, 9105, 9198, 9364, 9435, 9505, 9575, 9645, 9715, 9805]
const more6235 = [140, 190, 255, 325, 395, 465, 535, 605, 675, 745, 815, 885, 955, 1025, 1095, 1165, 1235, 1305, 1375, 1445, 1515, 1585, 1655, 1725, 1795, 1865, 1935, 2005, 2075, 2141, 2255, 2325, 2395, 2465, 2535, 2605, 2675, 2745, 2815, 2895, 3024, 3095, 3165, 3235, 3315, 3385, 3445, 3515, 3585, 3655, 3725, 3795, 3865, 3935, 4023, 4155, 4225, 4295, 4369, 4493, 4565, 4635, 4705, 4775, 4845, 4915, 4985, 5055, 5139, 5260, 5382, 5455, 5525, 5595, 5665, 5735, 5805, 5875, 5945, 6015, 6085, 6155, 6225, 6295, 6365, 6435, 6509, 6617, 6685, 6764, 6906, 6978, 7035, 7105, 7175, 7245, 7315, 7385, 7455, 7525, 7595, 7665, 7735, 7805, 7875, 7945, 8015, 8085, 8155, 8225, 8295, 8365, 8435, 8505, 8575, 8645, 8715, 8785, 8855, 8925, 8995, 9065, 9135, 9205, 9275, 9345, 9415, 9485, 9555, 9625, 9695, 9765, 9834]
const more6234 = [46, 115, 185, 250, 306, 450, 510, 704, 775, 845, 915, 995, 1114, 1184, 1255, 1325, 1395, 1465, 1550, 2160, 2234, 2435, 2505, 2580, 2706, 2800, 2935, 3005, 3066, 3385, 3445, 3515, 3603, 3753, 3853, 4275, 4373, 4546, 4693, 4773, 5026, 5093, 5165, 5235, 5313, 5464, 5535, 5607, 5728, 5933, 6005, 6075, 6145, 6215, 6285, 6355, 6425, 6495, 6579, 6778, 6952, 7024, 7114, 7316, 7430, 7484, 7653, 7725, 7795, 7865, 7935, 8005, 8075, 8139, 8290, 8453, 8525, 8620, 8784, 8854, 9124, 9195, 9289, 9464, 9535, 9629, 9770]
const more6233 = [202, 275, 345, 415, 485, 554, 686, 755, 825, 895, 965, 1035, 1105, 1175, 1245, 1315, 1417, 1566, 1635, 1705, 1772, 1926, 1995, 2065, 2135, 2205, 2275, 2365, 2504, 2575, 2659, 2915, 2985, 3056, 3126, 3195, 3265, 3330, 3385, 3445, 3508, 3653, 3725, 3795, 3865, 3958, 4372, 4684, 4755, 4825, 4895, 4965, 5052, 5204, 5275, 5345, 5415, 5485, 5555, 5625, 5695, 5765, 5854, 6004, 6513, 6585, 6655, 6725, 6808, 6930, 6983, 7045, 7104, 7264, 7344, 7534, 7588, 7853, 7953, 8155, 8239, 8415, 8499, 8655, 8725, 8795, 8885, 9224, 9290, 9495, 9565, 9635, 9705, 9788]
const more6232 = [114, 184, 255, 325, 395, 465, 530, 726, 795, 865, 935, 1005, 1075, 1155, 1544, 1615, 1685, 1755, 1825, 1920, 2055, 2145, 2275, 2355, 2475, 2545, 2615, 2695, 2975, 3045, 3115, 3185, 3255, 3325, 3385, 3445, 3532, 3673, 3745, 3815, 3885, 3955, 4025, 4095, 4173, 4422, 4489, 4577, 5453, 5525, 5595, 5665, 5735, 5833, 6433, 6505, 6575, 6645, 6715, 6785, 6855, 6923, 6992, 7124, 7195, 7430, 7494, 7653, 7725, 7820, 8024, 8094, 8373, 8479, 8744, 8820, 8993, 9065, 9135, 9205, 9275, 9345, 9424, 9760, 9825]
const more6231 = [64, 135, 205, 275, 345, 415, 485, 555, 629, 775, 851, 1155, 1225, 1595, 1665, 1730, 1790, 1850, 2015, 2085, 2155, 2225, 2320, 2695, 2765, 2840, 3166, 3235, 3315, 3413, 3485, 3568, 3773, 3845, 3915, 3985, 4055, 4125, 4195, 4265, 4348, 4462, 4535, 4605, 4675, 4763, 5040, 5173, 5245, 5318, 5513, 5585, 5655, 5733, 6133, 6393, 6465, 6528, 6668, 6738, 6984, 7055, 7143, 7364, 7435, 7519, 7833, 7919, 8084, 8155, 8225, 8295, 8365, 8435, 8523, 9015, 9085, 9155, 9239, 9404, 9475, 9553]
const more6230 = [166, 235, 305, 375, 445, 564, 635, 705, 775, 845, 915, 985, 1055, 1125, 1195, 1265, 1335, 1405, 1475, 1545, 1615, 1685, 2091, 2165, 2235, 2305, 2375, 2445, 2515, 2585, 2655, 2725, 2795, 2865, 2944, 3099, 3165, 3373, 3447, 3573, 3643, 3873, 3945, 4015, 4103, 4233, 4303, 4470, 5176, 5693, 5765, 5835, 5905, 5975, 6043, 6230, 6433, 6505, 6568, 6702, 6788, 6984, 7055, 7143, 7488, 7816, 8035, 8105, 8190, 8344, 8438, 8615, 8685, 8755, 8819, 8984, 9074, 9364, 9435, 9505, 9575, 9649, 9818]

const rows = [
  [6268, adc6268], [6265, adc6265], [6264, adc6264], [6263, adc6263], [6262, adc6262], [6261, adc6261],
  [6260, adc6260], [6259, adc6259], [6258, adc6258], [6257, adc6257], [6256, adc6256], [6255, adc6255],
  [6254, adc6254], [6253, adc6253], [6252, adc6252], [6251, adc6251], [6250, adc6250], [6249, adc6249],
  [6248, adc6248], [6247, adc6247], [6246, adc6246], [6245, adc6245], [6244, adc6244], [6243, adc6243],
  [6242, adc6242], [6241, adc6241], [6240, adc6240], [6239, adc6239], [6238, adc6238], [6237, adc6237],
  [6236, adc6236], [6235, adc6235], [6234, adc6234], [6233, adc6233], [6232, adc6232], [6231, adc6231],
  [6230, adc6230], [6229, adc6229], [6228, adc6228], [6227, adc6227], [6226, adc6226], [6225, adc6225],
  [6224, adc6224], [6223, adc6223], [6222, adc6222], [6221, adc6221], [6220, adc6220], [6219, adc6219],
  [6218, adc6218], [6217, adc6217], [6216, adc6216], [6215, adc6215], [6214, adc6214], [6213, adc6213],
  [6212, adc6212], [6211, adc6211], [6210, adc6210], [6208, adc6208],
  [6243, more6243], [6242, more6242], [6241, more6241], [6240, more6240], [6239, more6239], [6238, more6238],
  [6237, more6237], [6236, more6236], [6235, more6235], [6234, more6234], [6233, more6233], [6232, more6232],
  [6231, more6231], [6230, more6230]
]

const points = []
rows.forEach(([adc, samples]) => {
  samples.forEach(s => points.push([s, adc]))
})

const font = 'DejaVu Sans'
const gridLine = { show: true, lineStyle: { color: '#b0b0b0', width: 1 } }

const myChart = echarts.init(document.getElementById('main'), null, { renderer: 'canvas' })

myChart.setOption({
  animation: false,
  backgroundColor: '#fff',
  textStyle: { fontFamily: font, color: '#000' },
  title: {
    text: 'Run 506, channel125, Pedestal',
    left: 528,
    top: 9,
    textAlign: 'center',
    textStyle: { fontFamily: font, fontSize: 16.67, fontWeight: 'normal', color: '#000' }
  },
  grid: {
    left: 81, top: 36, width: 904, height: 905,
    show: true, backgroundColor: 'transparent', borderColor: '#000', borderWidth: 1
  },
  legend: {
    left: 773, top: 42,
    padding: [4, 6, 2, 16],
    itemWidth: 6, itemHeight: 6,
    icon: 'circle',
    backgroundColor: 'rgba(255,255,255,0.8)',
    borderColor: '#ccc', borderWidth: 1, borderRadius: 3,
    selectedMode: false,
    formatter: () => 'Samples\n{i|μ} = 6237.55, {i|σ} = 8.24',
    textStyle: {
      fontFamily: font, fontSize: 13.9, color: '#000', lineHeight: 17, padding: [0, 0, 5, 16],
      rich: { i: { fontFamily: font, fontSize: 13.9, fontStyle: 'italic', color: '#000' } }
    }
  },
  xAxis: {
    type: 'value', min: -485, max: 10343,
    name: 'Sample #', nameLocation: 'middle', nameGap: 30,
    nameTextStyle: { fontFamily: font, fontSize: 13.9, color: '#000' },
    axisLine: { show: true, onZero: false, lineStyle: { color: '#000', width: 1 } },
    axisTick: { show: true, length: 5, lineStyle: { color: '#000' }, customValues: xTicks },
    axisLabel: { fontFamily: font, fontSize: 13.9, color: '#000', margin: 10, customValues: xTicks, hideOverlap: false, formatter: v => String(v) },
    splitLine: gridLine
  },
  yAxis: {
    type: 'value', min: 6205.05, max: 6270.95,
    name: 'ADC Counts', nameLocation: 'middle', nameGap: 52, nameRotate: 90, nameMoveOverlap: false,
    nameTextStyle: { fontFamily: font, fontSize: 13.9, color: '#000' },
    axisLine: { show: true, onZero: false, lineStyle: { color: '#000', width: 1 } },
    axisTick: { show: true, length: 5, lineStyle: { color: '#000' }, customValues: yTicks },
    axisLabel: { fontFamily: font, fontSize: 13.9, color: '#000', margin: 10, customValues: yTicks, hideOverlap: false, formatter: v => String(v) },
    splitLine: gridLine
  },
  series: [{
    name: 'Samples',
    type: 'scatter',
    data: points,
    symbol: 'circle',
    symbolSize: 6,
    large: false,
    progressive: 0,
    silent: true,
    itemStyle: { color: '#000', opacity: 1 }
  }]
})

window.onresize = function() {
  myChart.resize()
}
</script>
</body>
</html>
